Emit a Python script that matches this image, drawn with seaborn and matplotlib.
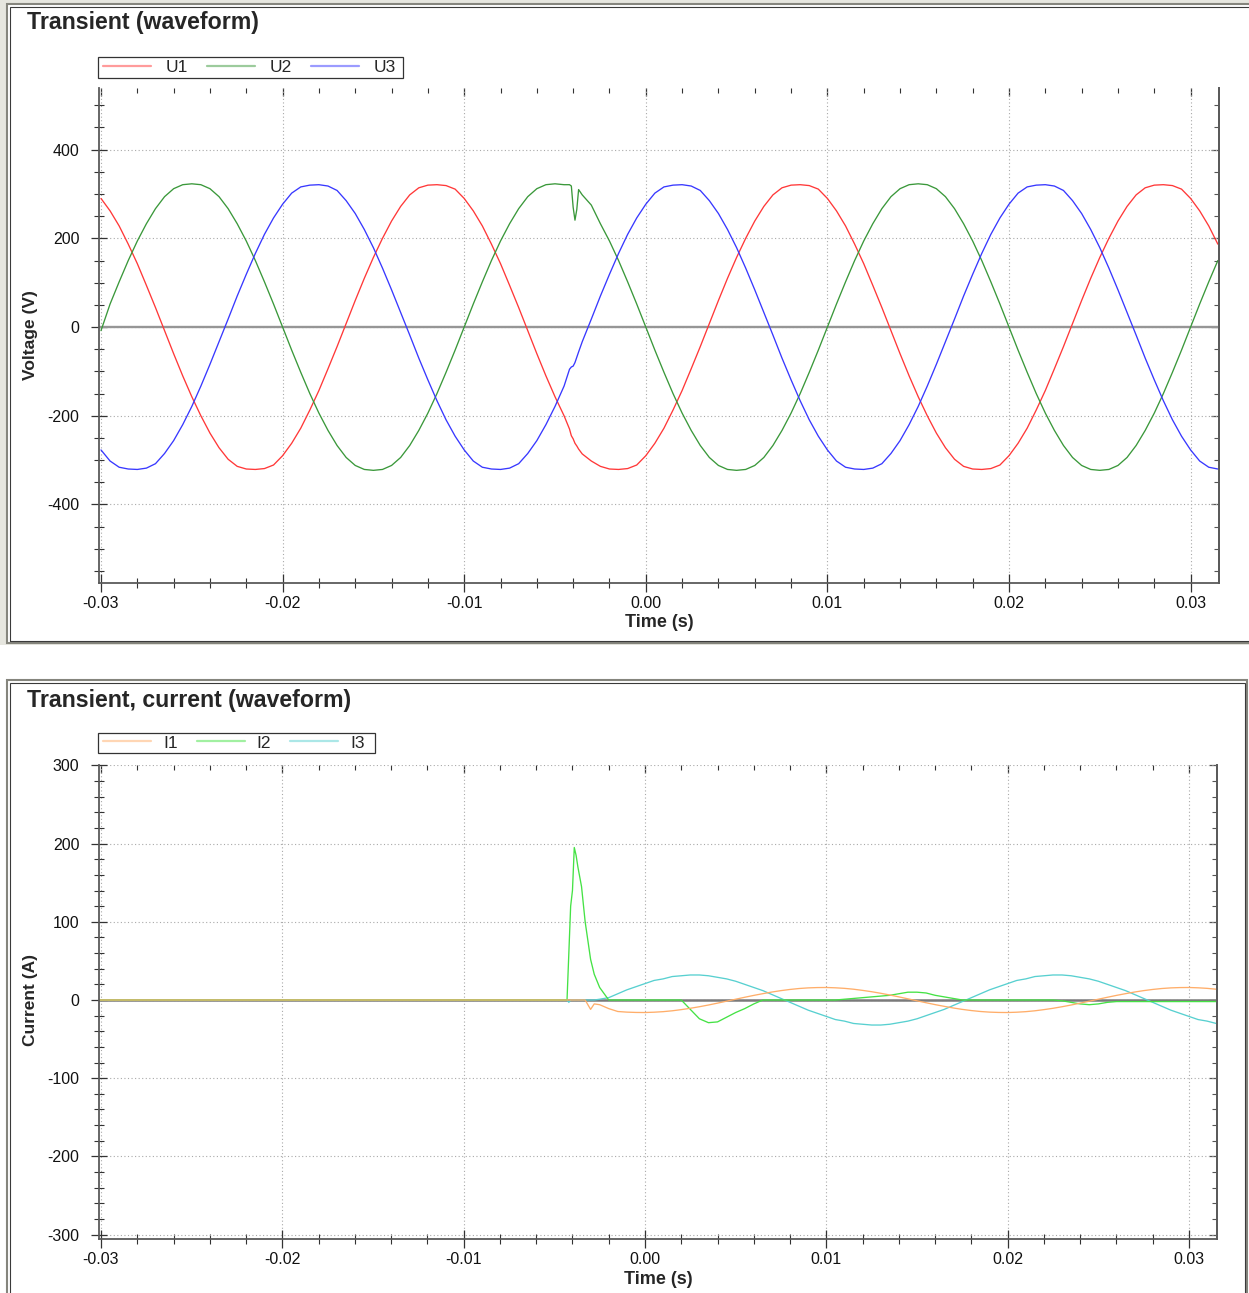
import numpy as np
import seaborn as sns
import matplotlib
matplotlib.use('Agg')
import matplotlib.pyplot as plt
from matplotlib.patches import Rectangle
from matplotlib.ticker import MultipleLocator, FixedLocator, NullFormatter

# ---------------- data ----------------
# voltage sampling times, ms
t_volt_ms = [
    -30.0, -29.5, -29.0, -28.5, -28.0, -27.5, -27.0, -26.5, -26.0, -25.5,
    -25.0, -24.5, -24.0, -23.5, -23.0, -22.5, -22.0, -21.5, -21.0, -20.5,
    -20.0, -19.5, -19.0, -18.5, -18.0, -17.5, -17.0, -16.5, -16.0, -15.5,
    -15.0, -14.5, -14.0, -13.5, -13.0, -12.5, -12.0, -11.5, -11.0, -10.5,
    -10.0, -9.5, -9.0, -8.5, -8.0, -7.5, -7.0, -6.5, -6.0, -5.5,
    -5.0, -4.5, -4.2, -4.1, -4.0, -3.9, -3.8, -3.7,
    -3.5, -3.0, -2.5, -2.0, -1.5, -1.0, -0.5, 0.0, 0.5, 1.0,
    1.5, 2.0, 2.5, 3.0, 3.5, 4.0, 4.5, 5.0, 5.5, 6.0,
    6.5, 7.0, 7.5, 8.0, 8.5, 9.0, 9.5, 10.0, 10.5, 11.0,
    11.5, 12.0, 12.5, 13.0, 13.5, 14.0, 14.5, 15.0, 15.5, 16.0,
    16.5, 17.0, 17.5, 18.0, 18.5, 19.0, 19.5, 20.0, 20.5, 21.0,
    21.5, 22.0, 22.5, 23.0, 23.5, 24.0, 24.5, 25.0, 25.5, 26.0,
    26.5, 27.0, 27.5, 28.0, 28.5, 29.0, 29.5, 30.0, 30.5, 31.0,
    31.5]

u1 = [
    290, 262, 228, 187, 143, 94, 44, -8, -60, -110,
    -157, -200, -239, -272, -298, -314, -320, -321, -319, -311,
    -290, -262, -228, -187, -143, -94, -44, 8, 60, 110,
    157, 200, 239, 272, 298, 314, 320, 321, 319, 311,
    290, 262, 228, 187, 143, 94, 44, -8, -60, -110,
    -157, -200, -230, -245, -252, -262, -268, -275,
    -286, -302, -314, -320, -321, -319, -311, -290, -262, -228,
    -187, -143, -94, -44, 8, 60, 110, 157, 200, 239,
    272, 298, 314, 320, 321, 319, 311, 290, 262, 228,
    187, 143, 94, 44, -8, -60, -110, -157, -200, -239,
    -272, -298, -314, -320, -321, -319, -311, -290, -262, -228,
    -187, -143, -94, -44, 8, 60, 110, 157, 200, 239,
    272, 298, 314, 320, 321, 319, 311, 290, 262, 228,
    187]

u2 = [
    -8, 52, 102, 150, 194, 233, 267, 294, 312, 321,
    323, 321, 312, 294, 267, 233, 194, 150, 102, 52,
    0, -52, -102, -150, -194, -233, -267, -294, -312, -321,
    -323, -321, -312, -294, -267, -233, -194, -150, -102, -52,
    0, 52, 102, 150, 194, 233, 267, 294, 312, 321,
    323, 321, 321, 318, 270, 241, 265, 310,
    298, 275, 233, 194, 150, 102, 52, 0, -52, -102,
    -150, -194, -233, -267, -294, -312, -321, -323, -321, -312,
    -294, -267, -233, -194, -150, -102, -52, 0, 52, 102,
    150, 194, 233, 267, 294, 312, 321, 323, 321, 312,
    294, 267, 233, 194, 150, 102, 52, 0, -52, -102,
    -150, -194, -233, -267, -294, -312, -321, -323, -321, -312,
    -294, -267, -233, -194, -150, -102, -52, 0, 52, 102,
    150]

u3 = [
    -277, -302, -316, -320, -321, -318, -308, -285, -256, -220,
    -179, -133, -84, -33, 18, 70, 119, 166, 209, 246,
    277, 302, 316, 320, 321, 318, 308, 285, 256, 220,
    179, 133, 84, 33, -18, -70, -119, -166, -209, -246,
    -277, -302, -316, -320, -321, -318, -308, -285, -256, -220,
    -179, -133, -95, -90, -88, -80, -68, -56,
    -33, 18, 70, 119, 166, 209, 246, 277, 302, 316,
    320, 321, 318, 308, 285, 256, 220, 179, 133, 84,
    33, -18, -70, -119, -166, -209, -246, -277, -302, -316,
    -320, -321, -318, -308, -285, -256, -220, -179, -133, -84,
    -33, 18, 70, 119, 166, 209, 246, 277, 302, 316,
    320, 321, 318, 308, 285, 256, 220, 179, 133, 84,
    33, -18, -70, -119, -166, -209, -246, -277, -302, -316,
    -320]

# current sampling times, ms
t_curr_ms = [
    -30.1, -4.5, -4.3, -4.2, -4.1, -4.0, -3.9, -3.8, -3.7, -3.5,
    -3.3, -3.0, -2.8, -2.5, -2.0, -1.5, -1.0, -0.5, 0.0, 0.5,
    1.0, 1.5, 2.0, 2.5, 3.0, 3.5, 4.0, 4.5, 5.0, 5.5,
    6.0, 6.5, 7.0, 7.5, 8.0, 8.5, 9.0, 9.5, 10.0, 10.5,
    11.0, 11.5, 12.0, 12.5, 13.0, 13.5, 14.0, 14.5, 15.0, 15.5,
    16.0, 16.5, 17.0, 17.5, 18.0, 18.5, 19.0, 19.5, 20.0, 20.5,
    21.0, 21.5, 22.0, 22.5, 23.0, 23.5, 24.0, 24.5, 25.0, 25.5,
    26.0, 26.5, 27.0, 27.5, 28.0, 28.5, 29.0, 29.5, 30.0, 30.5,
    31.0, 31.5]

i1 = [
    0, 0, 0, 0, 0, 0, 0, 0, 0, 0,
    0, -12, -5, -6, -11, -14.7, -15.5, -15.9, -16.0, -15.6,
    -14.9, -13.8, -12.3, -10.6, -8.6, -6.4, -4.0, -1.5, 1.0, 3.5,
    5.9, 8.1, 10.2, 12.0, 13.5, 14.7, 15.5, 15.9, 16.0, 15.6,
    14.9, 13.8, 12.3, 10.6, 8.6, 6.4, 4.0, 1.5, -1.0, -3.5,
    -5.9, -8.1, -10.2, -12.0, -13.5, -14.7, -15.5, -15.9, -16.0, -15.6,
    -14.9, -13.8, -12.3, -10.6, -8.6, -6.4, -4.0, -1.5, 1.0, 3.5,
    5.9, 8.1, 10.2, 12.0, 13.5, 14.7, 15.5, 15.9, 16.0, 15.6,
    14.9, 13.8]

i2 = [
    0, 0, 0, 60, 120, 140, 195, 185, 170, 145,
    100, 52, 33, 16, 0, 0, 0, 0, 0, 0,
    0, 0, 0, -12, -24, -29, -28, -22, -16, -11,
    -5, 0, 0, 0, 0, 0, 0, 0, 0, 0,
    1, 2, 3, 4, 5, 6, 8, 10, 10, 9,
    6, 4, 2, 0, 0, 0, 0, 0, 0, 0,
    0, 0, 0, 0, -1, -3, -5, -6, -5, -3,
    -2, -2, -2, -2, -2, -2, -2, -2, -2, -2,
    -2, -2]

i3 = [
    0, 0, 0, -3, 0, 0, 0, 0, 0, 0,
    0, 0, 0, 1, 3, 8, 13, 17, 21, 25,
    27, 30, 31, 32, 32, 31, 29, 27, 24, 20,
    16, 12, 7, 2, -3, -8, -13, -17, -21, -25,
    -27, -30, -31, -32, -32, -31, -29, -27, -24, -20,
    -16, -12, -7, -2, 3, 8, 13, 17, 21, 25,
    27, 30, 31, 32, 32, 31, 29, 27, 24, 20,
    16, 12, 7, 2, -3, -8, -13, -17, -21, -25,
    -27, -30]

volt_names = ['U1', 'U2', 'U3']
volt_colors = ['#ff3838', '#3a983a', '#3838ff']
curr_names = ['I1', 'I2', 'I3']
curr_colors = ['#ffae6a', '#45e245', '#58d0d0']

x_ticks = [-0.03, -0.02, -0.01, 0.0, 0.01, 0.02, 0.03]
x_labels = ['-0.03', '-0.02', '-0.01', '0.00', '0.01', '0.02', '0.03']
v_ticks = [-400, -200, 0, 200, 400]
v_labels = ['-400', '-200', '0', '200', '400']
c_ticks = [-300, -200, -100, 0, 100, 200, 300]
c_labels = ['-300', '-200', '-100', '0', '100', '200', '300']

t_volt = np.array(t_volt_ms) / 1000.0
t_curr = np.array(t_curr_ms) / 1000.0

# ---------------- figure ----------------
W, H = 1249, 1293
sns.set_style('ticks')
plt.rcParams['font.family'] = ['Liberation Sans', 'DejaVu Sans']

fig = plt.figure(figsize=(W / 100, H / 100), dpi=100)
fig.patch.set_facecolor('white')


def fx(px):
    return px / W


def fy(py):
    return 1 - py / H


def panel_frame(x0, y0, x1, y1):
    fig.add_artist(Rectangle((fx(x0), fy(y1)), fx(x1 - x0), (y1 - y0) / H,
                             transform=fig.transFigure, facecolor='white',
                             edgecolor='#85857d', lw=1.5, zorder=-5))
    fig.add_artist(Rectangle((fx(x0 + 2.5), fy(y1 - 2.5)), fx(x1 - x0 - 5), (y1 - y0 - 5) / H,
                             transform=fig.transFigure, fill=False,
                             edgecolor='#3a3a3a', lw=0.8, zorder=-4))


# light grey window background behind the upper panel
fig.add_artist(Rectangle((0, fy(645)), 1, 645 / H, transform=fig.transFigure,
                         facecolor='#e6e6df', edgecolor='none', zorder=-10))
panel_frame(7, 4, 1256, 643)
panel_frame(7, 680, 1247, 1300)

TICK_FS = 11.5


def style_axes(ax, xlim, ylim, yticks, ylabels, yminor):
    ax.set_xlim(xlim)
    ax.set_ylim(ylim)
    ax.xaxis.set_major_locator(FixedLocator(x_ticks))
    ax.set_xticklabels(x_labels)
    ax.xaxis.set_minor_locator(MultipleLocator(0.002))
    ax.yaxis.set_major_locator(FixedLocator(yticks))
    ax.set_yticklabels(ylabels)
    ax.yaxis.set_minor_locator(MultipleLocator(yminor))
    ax.grid(True, which='major', color='#a9a9a9', linestyle=(0, (1, 2.2)), lw=0.8)
    ax.set_xlabel('')
    ax.set_ylabel('')
    ax.tick_params(axis='x', which='major', direction='inout', length=13, width=0.9,
                   color='#333333', labelsize=TICK_FS, pad=3, bottom=True, top=False,
                   labelcolor='#111111')
    ax.tick_params(axis='x', which='minor', direction='inout', length=6.5, width=0.8,
                   color='#333333', bottom=True, top=False)
    ax.tick_params(axis='y', which='major', direction='inout', length=12, width=0.9,
                   color='#333333', labelsize=TICK_FS, pad=8, left=True, right=False,
                   labelcolor='#111111')
    ax.tick_params(axis='y', which='minor', direction='inout', length=7, width=0.8,
                   color='#333333', left=True, right=False)
    ax.spines['top'].set_visible(False)
    for s in ['left', 'bottom', 'right']:
        ax.spines[s].set_visible(True)
        ax.spines[s].set_color('#5a5a5a')
        ax.spines[s].set_linewidth(1.3)

    sx = ax.secondary_xaxis('top')
    sx.xaxis.set_major_locator(FixedLocator(x_ticks))
    sx.xaxis.set_minor_locator(MultipleLocator(0.002))
    sx.xaxis.set_major_formatter(NullFormatter())
    sx.tick_params(which='major', direction='in', length=6, width=0.9, color='#333333')
    sx.tick_params(which='minor', direction='in', length=3.8, width=0.8, color='#333333')
    sx.spines['top'].set_visible(False)

    sy = ax.secondary_yaxis('right')
    sy.yaxis.set_major_locator(FixedLocator(yticks))
    sy.yaxis.set_minor_locator(MultipleLocator(yminor))
    sy.yaxis.set_major_formatter(NullFormatter())
    sy.tick_params(which='major', direction='in', length=6, width=0.9, color='#555555')
    sy.tick_params(which='minor', direction='in', length=3.8, width=0.8, color='#555555')
    sy.spines['right'].set_color('#5a5a5a')
    sy.spines['right'].set_linewidth(1.3)


def add_legend(ax, order, box, textpad, colspace):
    # box = (left, top, right, bottom) of the legend frame, in pixels
    x0, y0, x1, y1 = box
    frame = Rectangle((fx(x0), fy(y1)), fx(x1 - x0), (y1 - y0) / H,
                      transform=fig.transFigure, facecolor='white',
                      edgecolor='#333333', lw=0.9, zorder=4.5, clip_on=False)
    handles, labels = ax.get_legend_handles_labels()
    lookup = dict(zip(labels, handles))
    leg = ax.legend([lookup[n] for n in order], order, loc='center left',
                    bbox_to_anchor=(fx(x0), fy((y0 + y1) / 2)), bbox_transform=fig.transFigure,
                    ncol=3, fontsize=12.5, frameon=False, borderpad=0.3, borderaxespad=0,
                    handlelength=2.75, handletextpad=textpad, columnspacing=colspace)
    leg.set_zorder(5)
    ax.add_artist(frame)
    for ln in leg.get_lines():
        ln.set_alpha(0.5)
        ln.set_linewidth(1.6)
    return leg


# ---------------- upper panel: voltage ----------------
ax1 = fig.add_axes([fx(99), fy(583), fx(1120), 495 / H])
ax1.axhline(0, color='#969696', lw=1.7, zorder=1.6)
for y, c, n in zip([u1, u2, u3], volt_colors, volt_names):
    sns.lineplot(x=t_volt, y=y, color=c, lw=0.95, label=n, ax=ax1,
                 estimator=None, sort=False)
style_axes(ax1, (-0.03011, 0.031564), (-577, 539), v_ticks, v_labels, 50)
add_legend(ax1, volt_names, (98, 57, 403, 78), 0.85, 1.1)

fig.text(fx(27), fy(22), 'Transient (waveform)', fontsize=16.7, fontweight='bold',
         ha='left', va='center')
fig.text(fx(659), fy(623), 'Time (s)', fontsize=13, fontweight='bold', ha='center', va='center')
fig.text(fx(30), fy(335), 'Voltage (V)', fontsize=12.5, fontweight='bold', ha='center',
         va='center', rotation=90)

# ---------------- lower panel: current ----------------
ax2 = fig.add_axes([fx(99), fy(1239), fx(1118), 474 / H])
ax2.axhline(0, color='#7a7a7a', lw=1.8, zorder=1.6)
# I1 drawn last so it sits on top, as in the reference
for y, c, n in zip([i3, i2, i1], curr_colors[::-1], curr_names[::-1]):
    sns.lineplot(x=t_curr, y=y, color=c, lw=0.95, label=n, ax=ax2,
                 estimator=None, sort=False)
style_axes(ax2, (-0.03011, 0.031544), (-305.6, 300.5), c_ticks, c_labels, 20)
add_legend(ax2, curr_names, (98, 733, 375, 753), 0.7, 1.1)

fig.text(fx(27), fy(700), 'Transient, current (waveform)', fontsize=16.7, fontweight='bold',
         ha='left', va='center')
fig.text(fx(658), fy(1279), 'Time (s)', fontsize=13, fontweight='bold', ha='center', va='center')
fig.text(fx(30), fy(1000), 'Current (A)', fontsize=12.5, fontweight='bold', ha='center',
         va='center', rotation=90)

fig.savefig('out.png', dpi=100)
